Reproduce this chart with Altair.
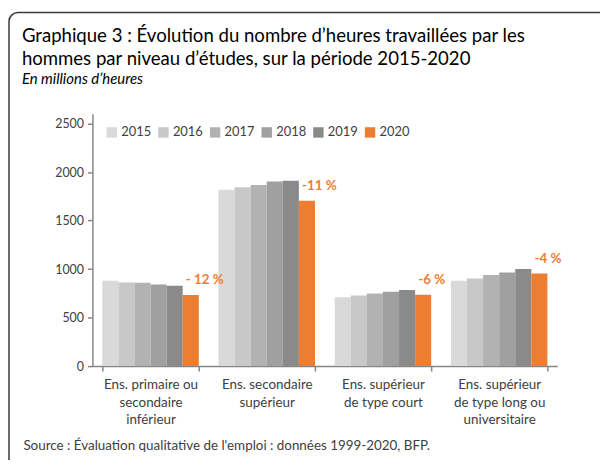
import altair as alt
import pandas as pd

categories = [
    "Ens. primaire ou|secondaire|inférieur",
    "Ens. secondaire|supérieur",
    "Ens. supérieur|de type court",
    "Ens. supérieur|de type long ou|universitaire",
]
years = ["2015", "2016", "2017", "2018", "2019", "2020"]
values = {
    "2015": [880, 1818, 709, 880],
    "2016": [862, 1844, 728, 902],
    "2017": [858, 1867, 748, 939],
    "2018": [840, 1903, 765, 965],
    "2019": [827, 1910, 784, 1001],
    "2020": [732, 1703, 735, 955],
}
annotations = ["- 12 %", "-11 %", "-6 %", "-4 %"]
colors = ["#d9d9d9", "#c8c8c8", "#b2b2b2", "#a0a0a0", "#8a8a8a", "#ed7d31"]
title_lines = [
    "Graphique 3 : Évolution du nombre d’heures travaillées par les",
    "hommes par niveau d’études, sur la période 2015-2020",
]
subtitle = "En millions d’heures"
source = "Source : Évaluation qualitative de l'emploi : données 1999-2020, BFP."

rows = []
for y in years:
    for c, v in zip(categories, values[y]):
        rows.append({"cat": c, "year": y, "value": v})
df = pd.DataFrame(rows)
ann = pd.DataFrame({"cat": categories, "year": "2020", "value": values["2020"], "label": annotations})

FONT = "Lato"

xenc = alt.X("cat:N", sort=categories,
             scale=alt.Scale(paddingInner=0.17, paddingOuter=0.085),
             axis=alt.Axis(labelExpr="split(datum.label, '|')", labelAngle=0,
                           labelFontSize=13.5, labelColor="#404040", labelLineHeight=17.5,
                           labelPadding=7, labelBaseline="top",
                           tickBand="extent", tickSize=5, tickColor="#868686",
                           domainColor="#868686", domainWidth=1.5, tickWidth=1.5,
                           title=source,
                           titleAnchor="start", titleAlign="left", titleBaseline="middle",
                           titleX=-70, titleY=80, titleFontSize=13.5, titleFontWeight="normal",
                           titleColor="#404040", titleFont=FONT))

bars = alt.Chart(df).mark_bar().encode(
    x=xenc,
    xOffset=alt.XOffset("year:N", sort=years, scale=alt.Scale(paddingInner=0, paddingOuter=0)),
    y=alt.Y("value:Q", scale=alt.Scale(domain=[0, 2500]),
            axis=alt.Axis(values=[0, 500, 1000, 1500, 2000, 2500], grid=False, title=None,
                          format="d",
                          labelFontSize=12.5, labelColor="#404040", labelPadding=4,
                          tickSize=5, tickColor="#868686", domainColor="#868686",
                          domainWidth=1.5, tickWidth=1.5)),
    color=alt.Color("year:N", sort=years, scale=alt.Scale(domain=years, range=colors),
                    legend=alt.Legend(title=None, orient="none", direction="horizontal",
                                      legendX=13, legendY=12, symbolType="square",
                                      symbolSize=110, symbolStrokeWidth=0, labelFontSize=13,
                                      labelColor="#404040", columnPadding=5, labelOffset=3,
                                      labelFont=FONT)),
)

labels = alt.Chart(ann).mark_text(
    color="#ed7d31", fontWeight="bold", fontSize=13.5, font=FONT, dy=-15, dx=-5,
    align="left", baseline="middle"
).encode(
    x=alt.X("cat:N", sort=categories),
    xOffset=alt.XOffset("year:N", sort=years),
    y="value:Q",
    text="label:N",
)

one = pd.DataFrame({"k": [0]})
frame = alt.Chart(one).mark_rect(
    fill=None, stroke="#3a3a3a", strokeWidth=1.5, cornerRadius=9
).encode(x=alt.value(-84), x2=alt.value(620), y=alt.value(-102), y2=alt.value(480))

t1 = alt.Chart(one).mark_text(text=title_lines[0], align="left", baseline="middle",
                              fontSize=18.7, font=FONT, color="#000000").encode(
    x=alt.value(-71), y=alt.value(-78))
t2 = alt.Chart(one).mark_text(text=title_lines[1], align="left", baseline="middle",
                              fontSize=18.7, font=FONT, color="#000000").encode(
    x=alt.value(-71), y=alt.value(-55))
t3 = alt.Chart(one).mark_text(text=subtitle, align="left", baseline="middle",
                              fontSize=15, font=FONT, fontStyle="italic", color="#000000").encode(
    x=alt.value(-71), y=alt.value(-35))

chart = alt.layer(frame, t1, t2, t3, bars, labels).properties(
    width=468, height=254,
    padding={"left": 85, "top": 105, "right": 43, "bottom": 93},
    autosize=alt.AutoSizeParams(type="none"),
).configure_view(stroke=None).configure_axis(labelFont=FONT)

chart.save("out.html", embed_options={"renderer": "svg", "actions": False})
